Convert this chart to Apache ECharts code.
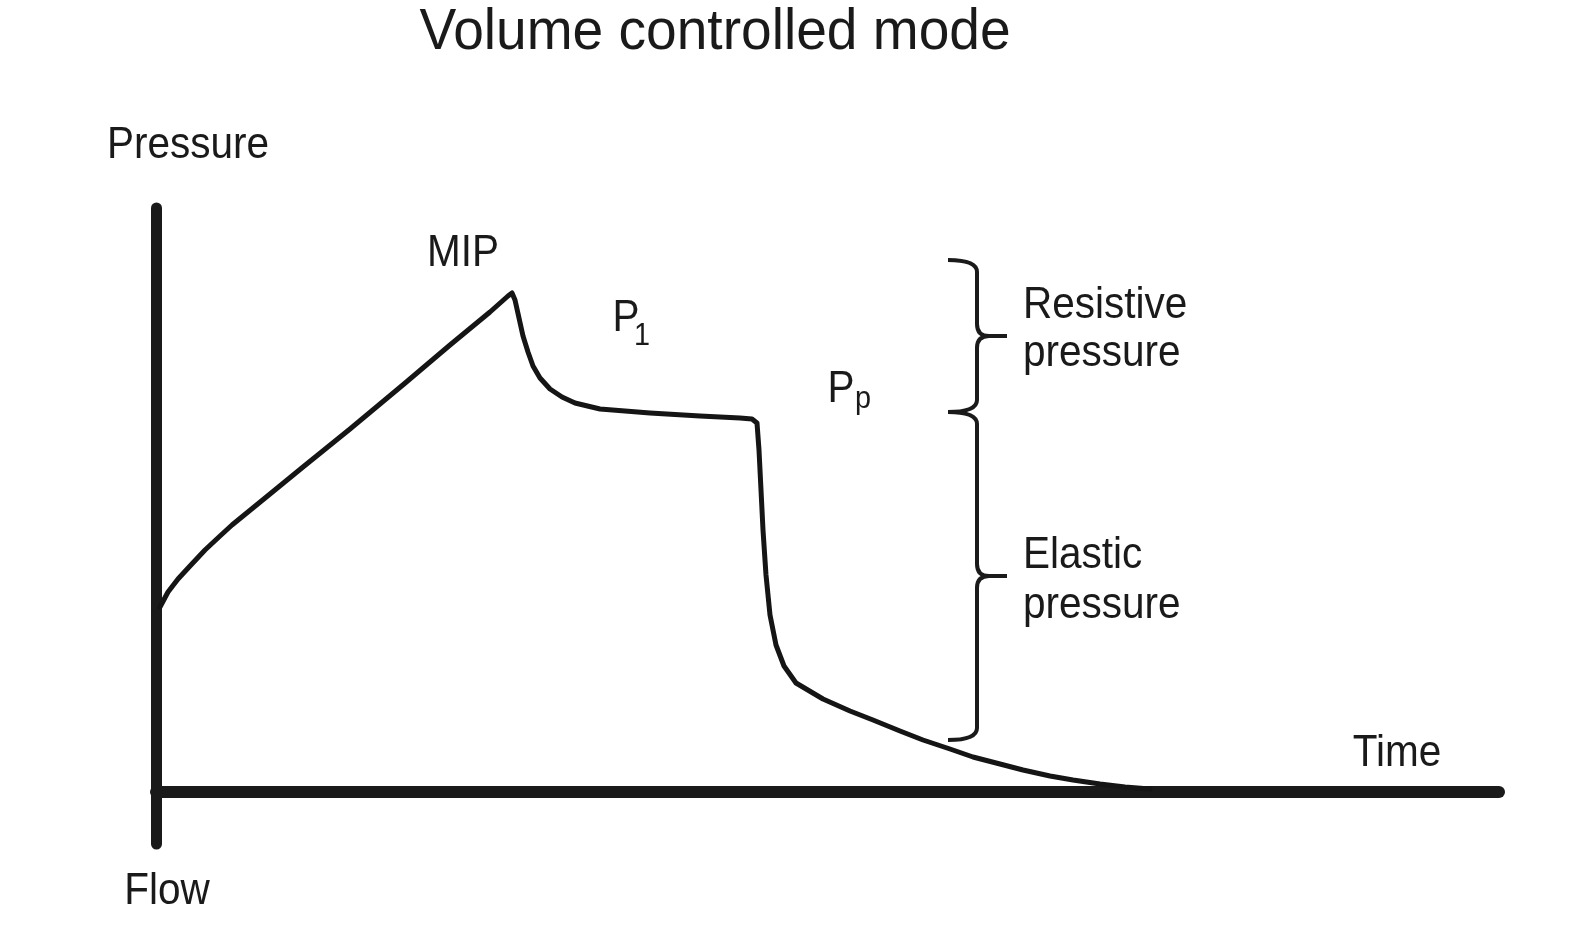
<!DOCTYPE html>
<html>
<head>
<meta charset="utf-8">
<title>Volume controlled mode</title>
<script src="https://cdn.jsdelivr.net/npm/echarts@6/dist/echarts.min.js"></script>
<style>
  html, body { margin: 0; padding: 0; background: #fff; }
  #chart { width: 1584px; height: 951px; }
</style>
</head>
<body>
<div id="chart"></div>
<script>
// pressure trace (arbitrary time / pressure units)
const time = [
  0.4, 1.2, 2.2, 3.4, 4.9, 6.4, 7.6, 11.4, 14.7, 19.4, 24.8, 29.4, 33.4, 35.2, 35.6,
  35.9, 36.3, 36.7, 37.2, 37.7, 38.4, 39.4, 40.6, 41.9, 44.4, 49.4, 54.4, 58.4, 59.6,
  60.1, 60.3, 60.5, 60.7, 61.0, 61.4, 62.0, 62.8, 64.0, 66.7, 69.4, 71.7, 74.4, 76.7,
  79.4, 81.7, 84.4, 86.7, 89.4, 91.7, 94.4, 96.9, 99.4
];
const pressure = [
  18.5, 20.0, 21.3, 22.6, 24.2, 25.6, 26.7, 29.8, 32.5, 36.3, 40.8, 44.7, 48.0, 49.6, 49.9,
  49.2, 47.4, 45.6, 44.0, 42.6, 41.4, 40.3, 39.5, 38.9, 38.3, 37.9, 37.6, 37.4, 37.3,
  36.9, 34.2, 30.2, 26.2, 21.7, 17.7, 14.7, 12.6, 10.9, 9.3, 8.1, 7.2, 6.1, 5.2,
  4.3, 3.5, 2.8, 2.2, 1.6, 1.2, 0.8, 0.5, 0.3
];

// braces: resistive part (plateau -> MIP) and elastic part (baseline -> plateau)
const braceNames = ["Resistive", "Elastic"];
const braceX = [82.1, 82.1];
const braceLow = [38.0, 5.2];
const braceHigh = [53.2, 38.0];

const chart = echarts.init(document.getElementById("chart"));

const INK = "#1a1a1a";
const FONT = "Liberation Sans, Arial, Helvetica, sans-serif";

const label = (text, x, y, size, align = "center") => ({
  type: "text",
  x,
  y,
  scaleX: 0.9,
  silent: true,
  style: {
    text,
    fontSize: size,
    fontFamily: FONT,
    fill: INK,
    align,
    verticalAlign: "middle",
    textAlign: align,
    textVerticalAlign: "middle",
  },
});

const renderBrace = (params, api) => {
  const top = api.coord([api.value(0), api.value(2)]);
  const bot = api.coord([api.value(0), api.value(1)]);
  const vx = top[0];
  const yt = top[1];
  const yb = bot[1];
  const ym = (yt + yb) / 2;
  const d = [
    `M${vx - 29} ${yt}`,
    `Q${vx} ${yt} ${vx} ${yt + 12}`,
    `L${vx} ${ym - 12}`,
    `Q${vx} ${ym} ${vx + 12} ${ym}`,
    `L${vx + 30} ${ym}`,
    `M${vx + 12} ${ym}`,
    `Q${vx} ${ym} ${vx} ${ym + 12}`,
    `L${vx} ${yb - 12}`,
    `Q${vx} ${yb} ${vx - 29} ${yb}`,
  ].join(" ");
  return {
    type: "path",
    shape: { pathData: d },
    style: { fill: "none", stroke: INK, lineWidth: 4 },
  };
};

chart.setOption({
  animation: false,
  backgroundColor: "#fff",
  grid: { left: 156, right: 85, top: 208, bottom: 107 },
  xAxis: {
    type: "value",
    min: 0,
    max: 134.3,
    axisLine: {
      show: true,
      onZero: true,
      lineStyle: { color: INK, width: 12, cap: "round" },
    },
    axisTick: { show: false },
    axisLabel: { show: false },
    splitLine: { show: false },
  },
  yAxis: {
    type: "value",
    min: -5.2,
    max: 58.4,
    axisLine: {
      show: true,
      onZero: true,
      lineStyle: { color: INK, width: 11, cap: "round" },
    },
    axisTick: { show: false },
    axisLabel: { show: false },
    splitLine: { show: false },
  },
  series: [
    {
      name: "Pressure",
      type: "line",
      data: time.map((t, i) => [t, pressure[i]]),
      showSymbol: false,
      smooth: false,
      lineStyle: { color: "#151515", width: 5, join: "round", cap: "round" },
      z: 3,
    },
    {
      name: "Braces",
      type: "custom",
      renderItem: renderBrace,
      data: braceNames.map((n, i) => [braceX[i], braceLow[i], braceHigh[i]]),
      z: 3,
    },
  ],
  graphic: [
    { ...label("Volume controlled mode", 715, 33, 58), scaleX: 0.95 },
    label("Pressure", 188, 146, 45),
    label("Flow", 167, 892, 45),
    label("Time", 1397, 754, 45),
    label("MIP", 463, 254, 45),
    label("P", 626, 319, 45),
    label("1", 634, 336, 32, "left"),
    label("P", 841, 390, 45),
    label("p", 855, 399, 32, "left"),
    label("Resistive", 1023, 306, 45, "left"),
    label("pressure", 1023, 354, 45, "left"),
    label("Elastic", 1023, 556, 45, "left"),
    label("pressure", 1023, 606, 45, "left"),
  ],
});
</script>
</body>
</html>
